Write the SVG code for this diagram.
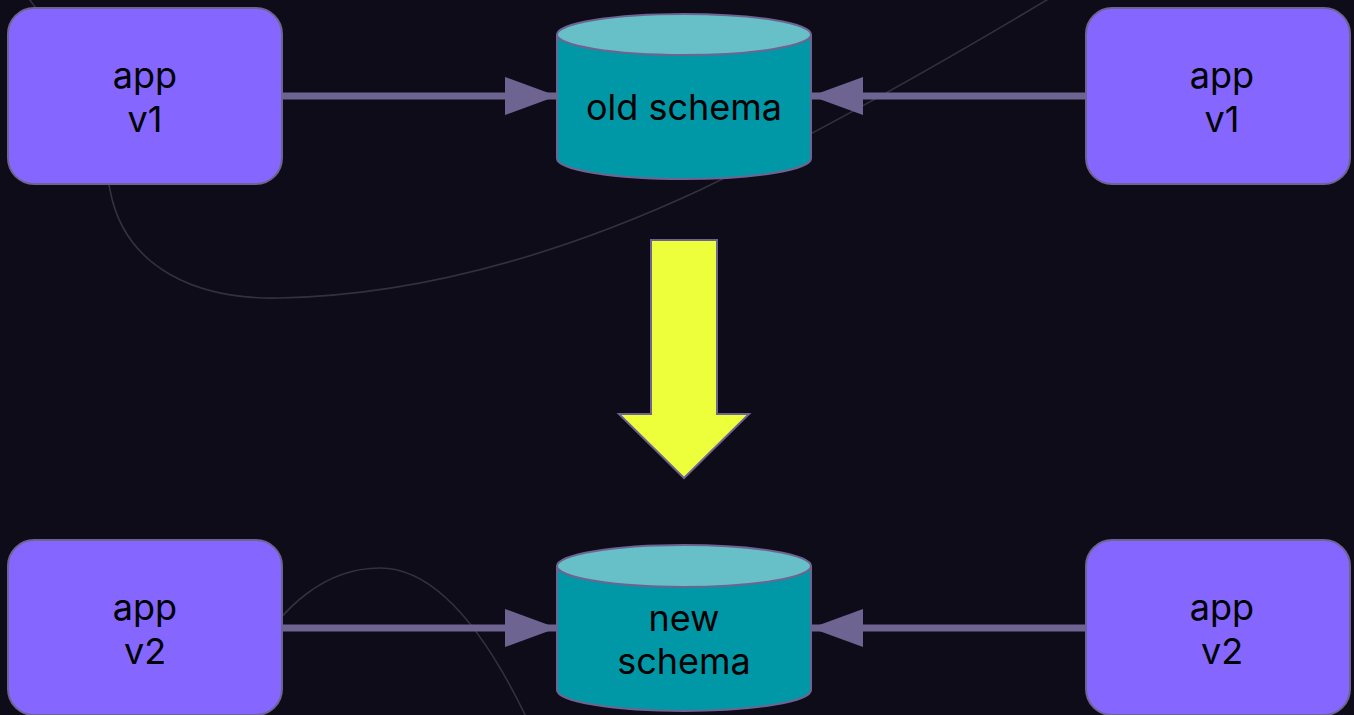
<svg xmlns="http://www.w3.org/2000/svg" width="1354" height="715" viewBox="0 0 1354 715">
<style>
.bg{fill:#0e0c19}
.box{fill:#8566ff;stroke:#6e6491;stroke-width:2}
.body{fill:#0097a7;stroke:#6e6491;stroke-width:2}
.lid{fill:#67c0c8;stroke:#6e6491;stroke-width:2}
.lbl{font-family:Inter,"Liberation Sans",sans-serif;font-size:36px;fill:#000;text-anchor:middle}
.edge{stroke:#6e6491;stroke-width:7;fill:none}
.faint{stroke:#34313f;stroke-width:1.6;fill:none}
.big{fill:#edff3a;stroke:#6e6491;stroke-width:2}
</style>
<defs>
<marker id="ah" markerUnits="userSpaceOnUse" markerWidth="52" markerHeight="38" viewBox="0 0 52 38" refX="52" refY="19" orient="auto">
<path d="M0,0 L52,19 L0,38 z" fill="#6e6491"/>
</marker>
</defs>
<rect class="bg" x="0" y="0" width="1354" height="715"/>
<g id="background-curves">
<path class="faint" d="M26,-5 C70,50 100,130 110,190 C125,270 200,300 280,298 C420,295 560,255 700,190 C820,132 930,70 1050,-2"/>
<path class="faint" d="M240,680 C280,600 330,568 380,568 C440,568 490,640 530,725"/>
</g>
<g id="connectors">
<line class="edge" x1="282" y1="96" x2="557" y2="96" marker-end="url(#ah)"/>
<line class="edge" x1="1086" y1="96" x2="811" y2="96" marker-end="url(#ah)"/>
<line class="edge" x1="282" y1="628" x2="557" y2="628" marker-end="url(#ah)"/>
<line class="edge" x1="1086" y1="628" x2="811" y2="628" marker-end="url(#ah)"/>
</g>
<g id="app-v1-left">
<rect class="box" x="8" y="8" width="274" height="176" rx="26"/>
<text class="lbl" x="145" y="88">app</text>
<text class="lbl" x="145" y="132">v1</text>
</g>
<g id="app-v1-right">
<rect class="box" x="1086" y="8" width="264" height="176" rx="26"/>
<text class="lbl" x="1222" y="88">app</text>
<text class="lbl" x="1222" y="132">v1</text>
</g>
<g id="old-schema">
<path class="body" d="M557,34.5 L557,158.5 A127,20.5 0 0 0 811,158.5 L811,34.5"/>
<ellipse class="lid" cx="684" cy="34.5" rx="127" ry="20.5"/>
<text class="lbl" x="684" y="120">old schema</text>
</g>
<g id="migration-arrow">
<path class="big" d="M651,240 L717,240 L717,414 L749,414 L684,478 L619,414 L651,414 z"/>
</g>
<g id="app-v2-left">
<rect class="box" x="8" y="540" width="274" height="175" rx="26"/>
<text class="lbl" x="145" y="620">app</text>
<text class="lbl" x="145" y="664">v2</text>
</g>
<g id="app-v2-right">
<rect class="box" x="1086" y="540" width="264" height="175" rx="26"/>
<text class="lbl" x="1222" y="620">app</text>
<text class="lbl" x="1222" y="664">v2</text>
</g>
<g id="new-schema">
<path class="body" d="M557,566 L557,690 A127,21 0 0 0 811,690 L811,566"/>
<ellipse class="lid" cx="684" cy="566" rx="127" ry="21"/>
<text class="lbl" x="684" y="631">new</text>
<text class="lbl" x="684" y="674">schema</text>
</g>
</svg>
